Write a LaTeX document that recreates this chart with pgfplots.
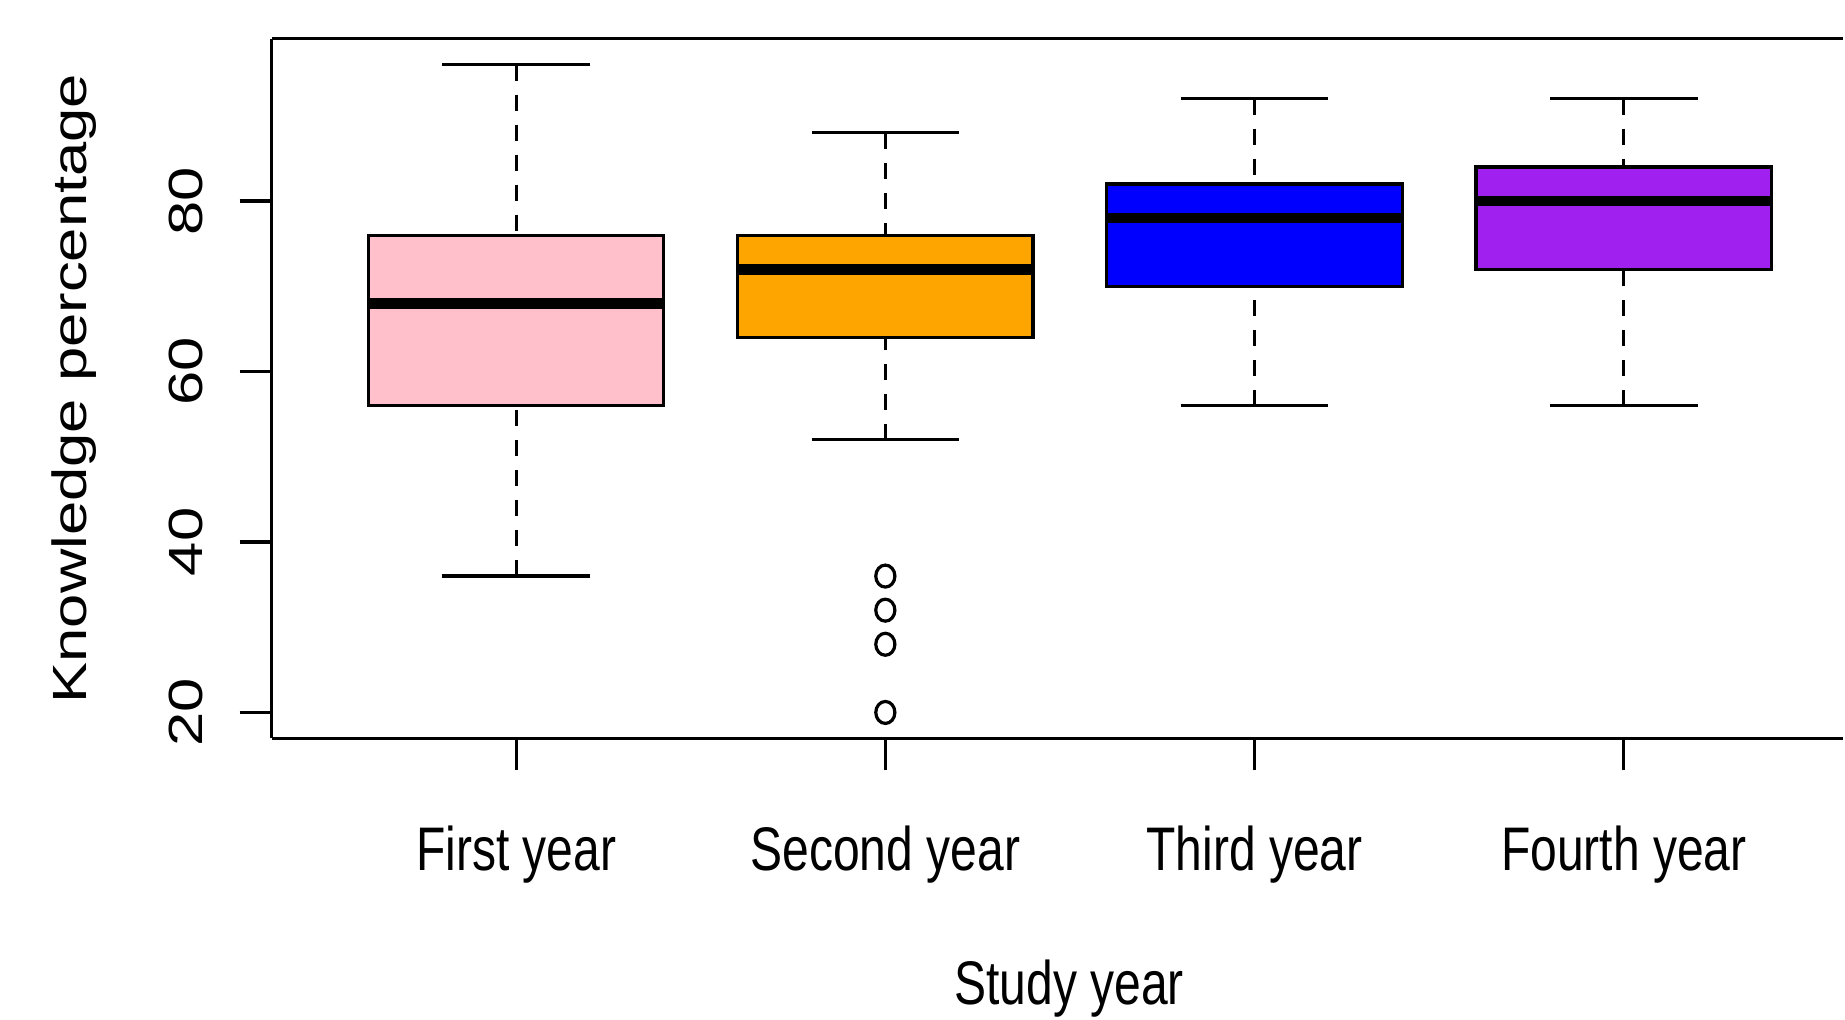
\documentclass[border=0pt]{standalone}
\usepackage{fontspec}
\setmainfont{Liberation Sans}
\usepackage{graphicx}
\usepackage{pgfplots}
\pgfplotsset{compat=1.18}

\definecolor{boxpink}{RGB}{255,192,203}
\definecolor{boxorange}{RGB}{255,165,0}
\definecolor{boxblue}{RGB}{0,0,255}
\definecolor{boxpurple}{RGB}{160,32,240}

% narrow lettering
\newcommand{\narrow}[1]{\scalebox{0.78}[1]{#1}}
\newcommand{\squash}[1]{\scalebox{1}[0.78]{#1}}

\pgfplotsset{
  whisk/.style={black, line width=0.8pt, dash pattern=on 4pt off 3.5pt, mark=none},
  cap/.style={black, line width=0.8pt, solid, mark=none},
  boxbody/.style={draw=black, line width=0.8pt, solid, mark=none},
  med/.style={black, line width=2.7pt, solid, mark=none},
}

% one box: #1 position, #2 lower whisker, #3 lower hinge, #4 median,
% #5 upper hinge, #6 upper whisker, #7 fill colour
\newcommand{\rbox}[7]{%
  \pgfmathsetmacro{\bl}{#1-0.4}\pgfmathsetmacro{\br}{#1+0.4}%
  \pgfmathsetmacro{\cl}{#1-0.2}\pgfmathsetmacro{\cr}{#1+0.2}%
  \edef\doplots{%
    \noexpand\addplot[whisk] coordinates {(#1,#2) (#1,#3)};
    \noexpand\addplot[whisk] coordinates {(#1,#6) (#1,#5)};
    \noexpand\addplot[cap] coordinates {(\cl,#2) (\cr,#2)};
    \noexpand\addplot[cap] coordinates {(\cl,#6) (\cr,#6)};
    \noexpand\addplot[boxbody, fill=#7] coordinates {(\bl,#3) (\br,#3) (\br,#5) (\bl,#5)} -- cycle;
    \noexpand\addplot[med] coordinates {(\bl,#4) (\br,#4)};
  }\doplots
}

\begin{document}
\begin{tikzpicture}
\path (-67.95pt,-70.25pt) rectangle (393.3pt,184.75pt);
\begin{axis}[
  at={(0,0)}, anchor=south west,
  scale only axis, width=393.3pt, height=175.05pt,
  xmin=0.3375, xmax=4.595, ymin=16.96, ymax=99.04,
  axis x line*=box, axis y line*=left,
  axis line style={line width=0.8pt, black},
  xtick={1,2,3,4},
  xticklabels={\narrow{First year},\narrow{Second year},\narrow{Third year},\narrow{Fourth year}},
  ytick={20,40,60,80},
  yticklabels={\squash{20},\squash{40},\squash{60},\squash{80}},
  tick align=outside, xtick pos=left, ytick pos=left,
  major tick length=8pt,
  every tick/.style={black, line width=0.8pt},
  tick label style={font=\fontsize{15.4}{18}\selectfont, inner sep=0pt},
  label style={font=\fontsize{15.4}{18}\selectfont, inner sep=0pt},
  xticklabel style={anchor=base, yshift=-25pt},
  yticklabel style={xshift=-13.5pt, rotate=90, anchor=center},
  xlabel={\narrow{Study year}},
  xlabel style={at={(rel axis cs:0.5075,-0.3799)}, anchor=base},
  ylabel={\squash{Knowledge percentage}},
  ylabel style={at={(rel axis cs:-0.11747,0.5)}, anchor=base},
  clip=false,
]
\rbox{1}{36}{56}{68}{76}{96}{boxpink}
\rbox{2}{52}{64}{72}{76}{88}{boxorange}
\rbox{3}{56}{70}{78}{82}{92}{boxblue}
\rbox{4}{56}{72}{80}{84}{92}{boxpurple}
% outlying values of the second year
\addplot[only marks, mark=o, mark size=2.75pt,
  mark options={xscale=0.87, line width=0.8pt, black}]
  coordinates {(2,36) (2,32) (2,28) (2,20)};
\end{axis}
\end{tikzpicture}
\end{document}
